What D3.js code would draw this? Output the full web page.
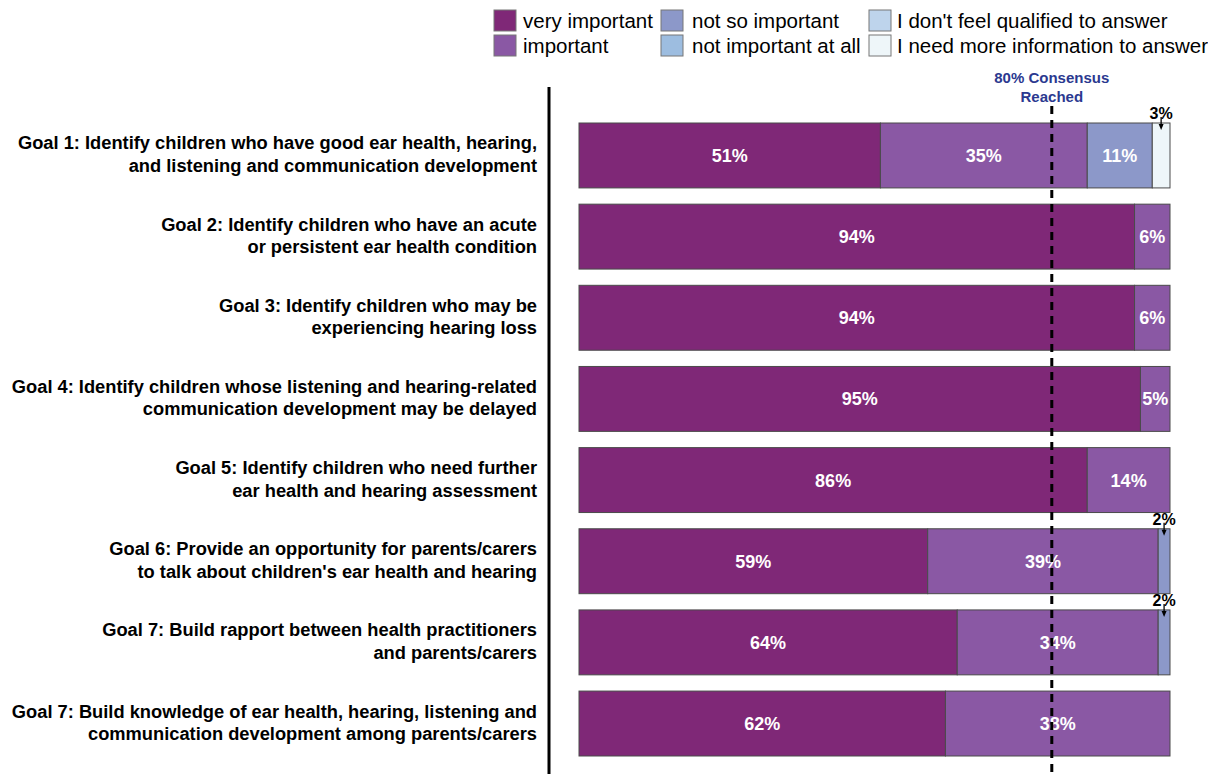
<!DOCTYPE html>
<html>
<head>
<meta charset="utf-8">
<script src="https://cdn.jsdelivr.net/npm/d3@7"></script>
<style>
  html, body { margin: 0; padding: 0; background: #fff; }
  svg { display: block; font-family: "Liberation Sans", Arial, Helvetica, sans-serif; }
</style>
</head>
<body>
<svg id="chart" width="1208" height="774"></svg>
<script>
// Goal labels (two lines each)
const goals = [
  ["Goal 1: Identify children who have good ear health, hearing,", "and listening and communication development"],
  ["Goal 2: Identify children who have an acute", "or persistent ear health condition"],
  ["Goal 3: Identify children who may be", "experiencing hearing loss"],
  ["Goal 4: Identify children whose listening and hearing-related", "communication development may be delayed"],
  ["Goal 5: Identify children who need further", "ear health and hearing assessment"],
  ["Goal 6: Provide an opportunity for parents/carers", "to talk about children's ear health and hearing"],
  ["Goal 7: Build rapport between health practitioners", "and parents/carers"],
  ["Goal 7: Build knowledge of ear health, hearing, listening and", "communication development among parents/carers"]
];

// Response categories
const categories = [
  "very important", "important", "not so important",
  "not important at all", "I don't feel qualified to answer", "I need more information to answer"
];
const colors = ["#7f2877", "#8a58a4", "#8c98c9", "#9dbde0", "#bed4ec", "#eef6f9"];

// Percentages per category, one value per goal
const veryImportant     = [51, 94, 94, 95, 86, 59, 64, 62];
const important         = [35,  6,  6,  5, 14, 39, 34, 38];
const notSoImportant    = [11,  0,  0,  0,  0,  2,  2,  0];
const notImportantAtAll = [ 0,  0,  0,  0,  0,  0,  0,  0];
const notQualified      = [ 0,  0,  0,  0,  0,  0,  0,  0];
const needMoreInfo      = [ 3,  0,  0,  0,  0,  0,  0,  0];

const consensus = 80;
const consensusLabel = ["80% Consensus", "Reached"];

const seriesValues = [veryImportant, important, notSoImportant, notImportantAtAll, notQualified, needMoreInfo];

const rows = goals.map((g, i) => {
  const r = { id: i };
  categories.forEach((c, k) => r[c] = seriesValues[k][i]);
  return r;
});

const svg = d3.select("#chart");

const x = d3.scaleLinear().domain([0, 100]).range([579, 1170]);
const y = d3.scaleBand().domain(d3.range(goals.length)).range([123, 756]).paddingInner(0.2).paddingOuter(0);
const color = d3.scaleOrdinal().domain(categories).range(colors);

const stacked = d3.stack().keys(categories)(rows);

// Bars
const layers = svg.append("g").selectAll("g")
  .data(stacked).join("g")
  .attr("fill", d => color(d.key));

layers.selectAll("rect")
  .data(d => d.filter(p => p[1] - p[0] > 0))
  .join("rect")
  .attr("x", d => x(d[0]))
  .attr("y", d => y(d.data.id))
  .attr("width", d => x(d[1]) - x(d[0]))
  .attr("height", y.bandwidth())
  .attr("stroke", "#4a4a4a")
  .attr("stroke-width", 1);

// Segment value labels
const segs = stacked.flatMap(layer => layer
  .filter(p => p[1] - p[0] > 0)
  .map(p => ({ key: layer.key, v: p[1] - p[0], x0: p[0], x1: p[1], id: p.data.id })));

svg.append("g").selectAll("text")
  .data(segs.filter(d => d.v >= 4))
  .join("text")
  .attr("x", d => x((d.x0 + d.x1) / 2))
  .attr("y", d => y(d.id) + y.bandwidth() / 2)
  .attr("dy", "0.36em")
  .attr("text-anchor", "middle")
  .attr("fill", "#fff")
  .attr("font-weight", "bold")
  .attr("font-size", 18)
  .text(d => d.v + "%");

// Small segments: label above the bar with a pointer arrow
const small = svg.append("g").selectAll("g")
  .data(segs.filter(d => d.v < 4))
  .join("g")
  .attr("transform", d => `translate(${x((d.x0 + d.x1) / 2)},${y(d.id)})`);
small.append("text")
  .attr("x", 0)
  .attr("y", -4)
  .attr("text-anchor", "middle")
  .attr("font-weight", "bold")
  .attr("font-size", 16)
  .attr("fill", "#000")
  .text(d => d.v + "%");
small.append("line")
  .attr("x1", 0).attr("x2", 0)
  .attr("y1", -6).attr("y2", 2)
  .attr("stroke", "#000")
  .attr("stroke-width", 1.3);
small.append("path")
  .attr("d", "M-2.5,1 L2.5,1 L0,7 Z")
  .attr("fill", "#000");

// Category axis line
svg.append("line")
  .attr("x1", 549).attr("x2", 549)
  .attr("y1", 87).attr("y2", 774)
  .attr("stroke", "#000").attr("stroke-width", 3);

// Goal labels
const lab = svg.append("g").selectAll("text")
  .data(goals.map((g, i) => ({ g, i })))
  .join("text")
  .attr("text-anchor", "end")
  .attr("font-weight", "bold")
  .attr("font-size", 18.3)
  .attr("fill", "#000");
lab.selectAll("tspan")
  .data(d => d.g.map((t, k) => ({ t, k, i: d.i })))
  .join("tspan")
  .attr("x", 537)
  .attr("y", d => y(d.i) + y.bandwidth() / 2 + (d.k === 0 ? -6 : 16.5))
  .text(d => d.t);

// 80% consensus line
svg.append("line")
  .attr("x1", x(consensus)).attr("x2", x(consensus))
  .attr("y1", 106).attr("y2", 774)
  .attr("stroke", "#000").attr("stroke-width", 3)
  .attr("stroke-dasharray", "8,6");

svg.append("g").selectAll("text")
  .data(consensusLabel)
  .join("text")
  .attr("x", x(consensus))
  .attr("y", (d, i) => 83 + i * 19)
  .attr("text-anchor", "middle")
  .attr("font-weight", "bold")
  .attr("font-size", 15)
  .attr("fill", "#2b3990")
  .text(d => d);

// Legend
const legendPos = [
  { sx: 494, tx: 523, row: 0 }, { sx: 494, tx: 523, row: 1 },
  { sx: 661, tx: 692, row: 0 }, { sx: 661, tx: 692, row: 1 },
  { sx: 869, tx: 897, row: 0 }, { sx: 869, tx: 897, row: 1 }
];
const legend = svg.append("g").selectAll("g")
  .data(categories)
  .join("g");
legend.append("rect")
  .attr("x", (d, i) => legendPos[i].sx)
  .attr("y", (d, i) => 10 + legendPos[i].row * 25)
  .attr("width", 22).attr("height", 21)
  .attr("fill", d => color(d))
  .attr("stroke", "#777").attr("stroke-width", 1);
legend.append("text")
  .attr("x", (d, i) => legendPos[i].tx)
  .attr("y", (d, i) => 28 + legendPos[i].row * 25)
  .attr("font-size", 20.5)
  .attr("fill", "#000")
  .text(d => d);
</script>
</body>
</html>
